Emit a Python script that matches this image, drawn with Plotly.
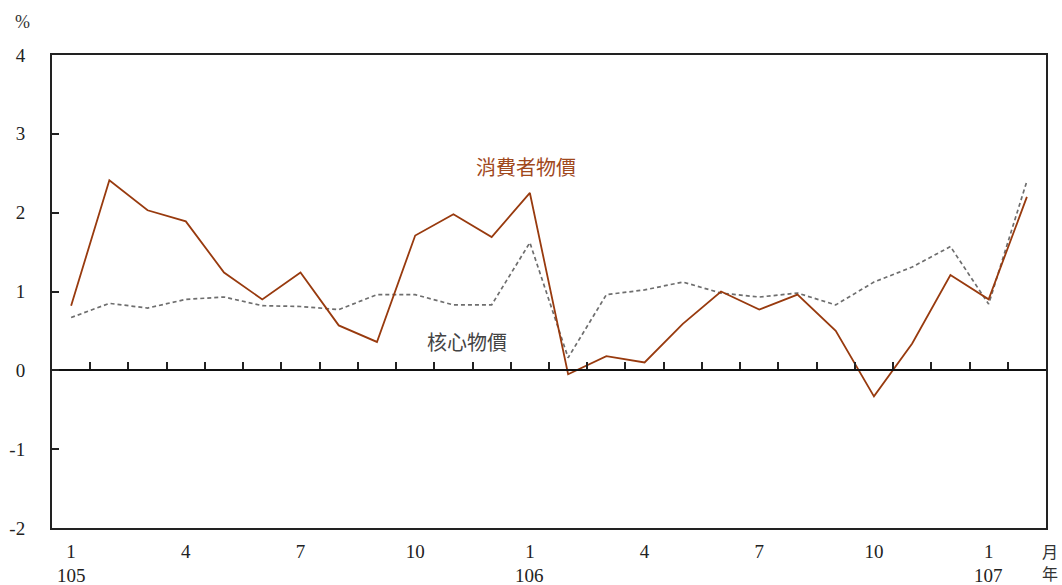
import plotly.graph_objects as go

# Monthly year-over-year change (%), ROC years 105/1 – 107/2
months = ["105/1", "105/2", "105/3", "105/4", "105/5", "105/6", "105/7", "105/8",
          "105/9", "105/10", "105/11", "105/12",
          "106/1", "106/2", "106/3", "106/4", "106/5", "106/6", "106/7", "106/8",
          "106/9", "106/10", "106/11", "106/12",
          "107/1", "107/2"]
cpi = [0.82, 2.41, 2.03, 1.89, 1.24, 0.90, 1.24, 0.57, 0.36, 1.71, 1.98, 1.69,
       2.25, -0.05, 0.18, 0.10, 0.59, 1.00, 0.77, 0.96, 0.50, -0.33, 0.34, 1.21,
       0.90, 2.20]
core = [0.67, 0.85, 0.79, 0.90, 0.93, 0.82, 0.81, 0.77, 0.96, 0.96, 0.83, 0.83,
        1.62, 0.16, 0.96, 1.02, 1.12, 0.98, 0.93, 0.98, 0.83, 1.12, 1.31, 1.57,
        0.84, 2.40]
month_tick_idx = [0, 3, 6, 9, 12, 15, 18, 21, 24]
month_tick_text = ["1", "4", "7", "10", "1", "4", "7", "10", "1"]
year_idx = [0, 12, 24]
year_text = ["105", "106", "107"]
y_ticks = [-2, -1, 0, 1, 2, 3, 4]
y_tick_text = ["-2", "-1", "0", "1", "2", "3", "4"]

x = list(range(len(months)))
serif = "Liberation Serif, Times New Roman, serif"
cjk = "Noto Sans CJK TC, sans-serif"

W, H = 1062, 585
ML, MR, MT, MB = 52, 16, 55, 57


def px_to_paper(px, py):
    return (px - ML) / (W - ML - MR), (H - MB - py) / (H - MT - MB)


fig = go.Figure()
fig.add_trace(go.Scatter(x=x, y=core, mode="lines", name="核心物價",
                         line=dict(color="#6e6e6e", width=1.7, dash="4px,3px")))
fig.add_trace(go.Scatter(x=x, y=cpi, mode="lines", name="消費者物價",
                         line=dict(color="#983a0e", width=1.8)))
# helper trace so the zero-line axis is drawn
fig.add_trace(go.Scatter(x=[x[0]], y=[0], xaxis="x2", mode="markers",
                         marker=dict(opacity=0), showlegend=False, hoverinfo="skip"))

annotations = [
    dict(text="消費者物價", x=11.9, y=2.59, xref="x", yref="y", showarrow=False,
         font=dict(family=cjk, size=20, color="#a0481c")),
    dict(text="核心物價", x=10.35, y=0.36, xref="x", yref="y", showarrow=False,
         font=dict(family=cjk, size=20, color="#444")),
]
# year labels beneath the January ticks
for i, t in zip(year_idx, year_text):
    annotations.append(dict(text=t, x=i, y=px_to_paper(0, 575)[1], xref="x", yref="paper",
                            showarrow=False, xanchor="center", yanchor="middle",
                            borderpad=0,
                            font=dict(family=serif, size=19, color="#222")))
# corner unit labels
for t, (px, py) in [("%", (22, 22)), ("月", (1050, 551)), ("年", (1050, 573))]:
    fx, fy = px_to_paper(px, py)
    annotations.append(dict(text=t, x=fx, y=fy, xref="paper", yref="paper",
                            showarrow=False, xanchor="center", yanchor="middle",
                            borderpad=0,
                            font=dict(family=serif if t == "%" else cjk,
                                      size=18 if t == "%" else 16, color="#333")))

fig.update_layout(
    width=W, height=H,
    margin=dict(l=ML, r=MR, t=MT, b=MB),
    paper_bgcolor="white", plot_bgcolor="white",
    showlegend=False,
    font=dict(family=serif, size=19, color="#222"),
    xaxis=dict(
        range=[-0.5, len(months) - 0.5], automargin=False,
        tickmode="array", tickvals=month_tick_idx, ticktext=month_tick_text,
        ticks="", showgrid=False, zeroline=False,
        showline=True, linecolor="#222", linewidth=2, mirror=True,
        ticklabelstandoff=5,
        tickfont=dict(family=serif, size=19, color="#222"),
    ),
    xaxis2=dict(
        overlaying="x", side="top", anchor="free", position=1/3,
        range=[-0.5, len(months) - 0.5],
        tickmode="array", tickvals=[i + 0.5 for i in range(len(months) - 1)],
        ticks="outside", ticklen=7, tickwidth=2, tickcolor="#222",
        showticklabels=False, showgrid=False, zeroline=False,
        showline=True, linecolor="#111", linewidth=2,
    ),
    yaxis=dict(
        range=[-2, 4], automargin=False,
        tickmode="array", tickvals=y_ticks, ticktext=y_tick_text,
        ticks="inside", ticklen=7, tickwidth=2, tickcolor="#222",
        showgrid=False, zeroline=False,
        showline=True, linecolor="#222", linewidth=2, mirror=True,
        ticklabelstandoff=21,
        tickfont=dict(family=serif, size=19, color="#222"),
    ),
    annotations=annotations,
)

fig.write_html("out.html")
